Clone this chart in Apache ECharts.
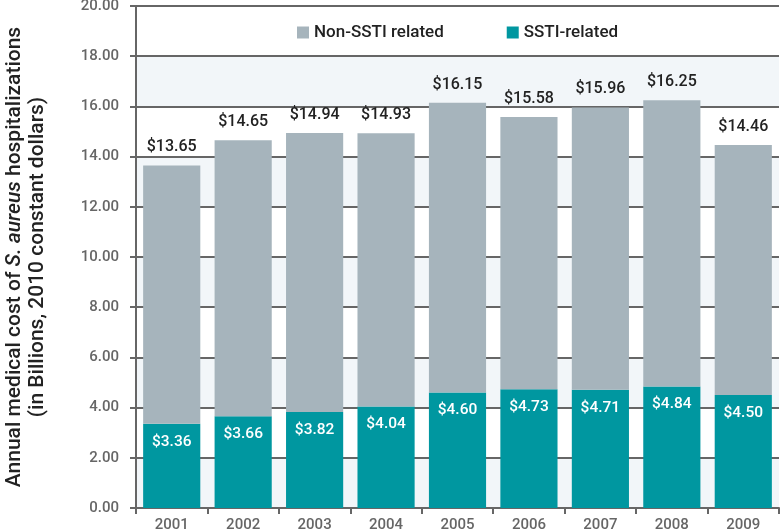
<!DOCTYPE html>
<html><head><meta charset="utf-8">
<script src="https://cdn.jsdelivr.net/npm/echarts@6/dist/echarts.min.js"></script>
<style>html,body{margin:0;padding:0;background:#fff}#c{width:780px;height:532px}</style>
</head><body><div id="c"></div>
<script>
const years = ['2001','2002','2003','2004','2005','2006','2007','2008','2009'];
const sstiValues = [3.36, 3.66, 3.82, 4.04, 4.60, 4.73, 4.71, 4.84, 4.50];
const totalValues = [13.65, 14.65, 14.94, 14.93, 16.15, 15.58, 15.96, 16.25, 14.46];
const nonSstiValues = totalValues.map((t, i) => +(t - sstiValues[i]).toFixed(2));
const yTicks = {min: 0, max: 20, interval: 2};

const chart = echarts.init(document.getElementById('c'));
const font = 'Roboto, "Noto Sans", sans-serif';
chart.setOption({
  animation: false,
  textStyle: {fontFamily: font},
  grid: {left: 136, right: 1, top: 6, bottom: 24, containLabel: false, outerBoundsMode: 'none'},
  legend: {
    top: 19, left: 292, itemWidth: 12, itemHeight: 12, itemGap: 63, itemTextGap: 7,
    icon: 'rect',
    textStyle: {fontSize: 17, color: '#222', fontFamily: font, fontWeight: 500},
    data: ['Non-SSTI related', 'SSTI-related']
  },
  xAxis: {
    type: 'category', data: years,
    axisLine: {lineStyle: {color: '#666', width: 2}},
    axisTick: {show: true, length: 6, lineStyle: {color: '#666', width: 2}},
    axisLabel: {fontSize: 15, color: '#666', fontWeight: 500, margin: 10}
  },
  yAxis: {
    type: 'value', min: yTicks.min, max: yTicks.max, interval: yTicks.interval,
    axisLine: {show: true, lineStyle: {color: '#666', width: 2}},
    axisTick: {show: true, length: 6, lineStyle: {color: '#666', width: 2}},
    axisLabel: {fontSize: 15, color: '#666', fontWeight: 500, margin: 17, formatter: v => v.toFixed(2)},
    splitLine: {show: true, lineStyle: {color: '#666', width: 2}},
    splitArea: {show: true, areaStyle: {color: ['#f2f6f9', '#ffffff']}},
    name: '{n|Annual medical cost of }{i|S. aureus}{n| hospitalizations}\n{n|(in Billions, 2010 constant dollars)}',
    nameLocation: 'middle', nameGap: 87, nameRotate: 90,
    nameTextStyle: {
      rich: {
        n: {fontSize: 21, color: '#222', fontFamily: font, fontWeight: 500, lineHeight: 23},
        i: {fontSize: 21, color: '#222', fontFamily: font, fontWeight: 500, fontStyle: 'italic', lineHeight: 23}
      }
    }
  },
  series: [
    {
      name: 'SSTI-related', type: 'bar', stack: 'total', data: sstiValues,
      barWidth: '80%',
      itemStyle: {color: '#0097a0'},
      label: {show: true, position: 'insideTop', distance: 10, color: '#fff', fontSize: 15.5, fontWeight: 500,
        formatter: p => '$' + p.value.toFixed(2)}
    },
    {
      name: 'Non-SSTI related', type: 'bar', stack: 'total', data: nonSstiValues,
      barWidth: '80%',
      itemStyle: {color: '#a6b4bc'},
      label: {show: true, position: 'top', distance: 10, color: '#222', fontSize: 16, fontWeight: 500,
        formatter: p => '$' + totalValues[p.dataIndex].toFixed(2)}
    }
  ]
});
</script></body></html>
